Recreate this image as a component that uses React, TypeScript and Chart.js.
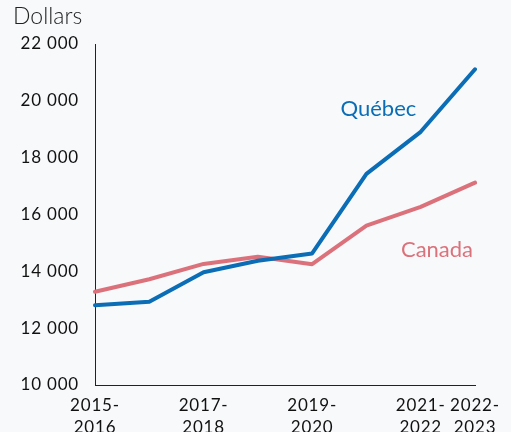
import React, { useEffect, useRef } from "react";
import { Chart, registerables } from "chart.js";

Chart.register(...registerables);

const categories = [
  "2015-2016", "2016-2017", "2017-2018", "2018-2019",
  "2019-2020", "2020-2021", "2021-2022", "2022-2023",
];
const shownTickIndexes = [0, 2, 4, 6, 7];
const quebec = [12810, 12930, 13970, 14370, 14630, 17430, 18910, 21110];
const canada = [13280, 13720, 14260, 14510, 14250, 15610, 16270, 17120];
const yTicks = { min: 10000, max: 22000, step: 2000 };
const unitLabel = "Dollars";
const seriesLabels = { quebec: "Québec", canada: "Canada" };

const BLUE = "#0a6db5";
const PINK = "#db727b";
const BG = "#f8f9fb";
const FONT = "Lato";

const fmt = (v: number) => {
  const s = Math.round(v).toString();
  return s.replace(/\B(?=(\d{3})+(?!\d))/g, " ");
};

export default function App() {
  const ref = useRef<HTMLCanvasElement | null>(null);

  useEffect(() => {
    if (!ref.current) return;
    document.body.style.margin = "0";
    document.body.style.background = BG;

    const decor = {
      id: "decor",
      beforeDraw(chart: any) {
        const { ctx, width, height } = chart;
        ctx.fillStyle = BG;
        ctx.fillRect(0, 0, width, height);
        (ctx as any).letterSpacing = "0.8px";
      },
      afterDatasetsDraw(chart: any) {
        const { ctx, scales } = chart;
        const x = scales.x;
        const y = scales.y;
        ctx.save();
        (ctx as any).letterSpacing = "0px";
        ctx.textBaseline = "middle";
        ctx.textAlign = "center";
        ctx.font = `400 22px ${FONT}`;
        ctx.fillStyle = BLUE;
        ctx.fillText(seriesLabels.quebec, x.getPixelForValue(5.22), y.getPixelForValue(19700));
        ctx.fillStyle = PINK;
        ctx.fillText(seriesLabels.canada, x.getPixelForValue(6.3), y.getPixelForValue(14750));
        ctx.font = `300 23px ${FONT}`;
        ctx.fillStyle = "#222";
        ctx.textAlign = "left";
        ctx.fillText(unitLabel, 13, y.top - 27);
        ctx.restore();
      },
    };

    const chart = new Chart(ref.current, {
      type: "line",
      data: {
        labels: categories,
        datasets: [
          {
            label: seriesLabels.quebec,
            data: quebec,
            borderColor: BLUE,
            backgroundColor: BLUE,
            borderWidth: 4,
            pointRadius: 0,
            tension: 0,
            borderCapStyle: "round",
            borderJoinStyle: "round",
          },
          {
            label: seriesLabels.canada,
            data: canada,
            borderColor: PINK,
            backgroundColor: PINK,
            borderWidth: 4,
            pointRadius: 0,
            tension: 0,
            borderCapStyle: "round",
            borderJoinStyle: "round",
          },
        ],
      },
      options: {
        responsive: false,
        animation: false,
        layout: { padding: { top: 44, right: 36, left: 0, bottom: 0 } },
        plugins: {
          legend: { display: false },
          tooltip: { enabled: false },
          title: { display: false },
        },
        scales: {
          x: {
            type: "category",
            offset: false,
            grid: { display: false, drawTicks: false },
            border: { display: true, color: "#222", width: 1 },
            afterFit(scale: any) {
              scale.height = 47;
            },
            ticks: {
              autoSkip: false,
              maxRotation: 0,
              minRotation: 0,
              padding: 9,
              color: "#111",
              font: { family: FONT, size: 17, lineHeight: 1.3 },
              callback(_v: any, i: number) {
                if (!shownTickIndexes.includes(i)) return "";
                const parts = categories[i].split("-");
                return [parts[0] + "-", parts[1]];
              },
            },
          },
          y: {
            min: yTicks.min,
            max: yTicks.max,
            grid: { display: false, drawTicks: false },
            border: { display: true, color: "#222", width: 1 },
            afterFit(scale: any) {
              scale.width = 95;
            },
            ticks: {
              stepSize: yTicks.step,
              padding: 16,
              color: "#111",
              font: { family: FONT, size: 17 },
              callback: (v: any) => fmt(Number(v)),
            },
          },
        },
      },
      plugins: [decor],
    });
    return () => chart.destroy();
  }, []);

  return (
    <div style={{ position: "absolute", left: 0, top: 0, width: 511, height: 432, overflow: "hidden" }}>
      <canvas ref={ref} width={511} height={432} style={{ display: "block" }} />
    </div>
  );
}
